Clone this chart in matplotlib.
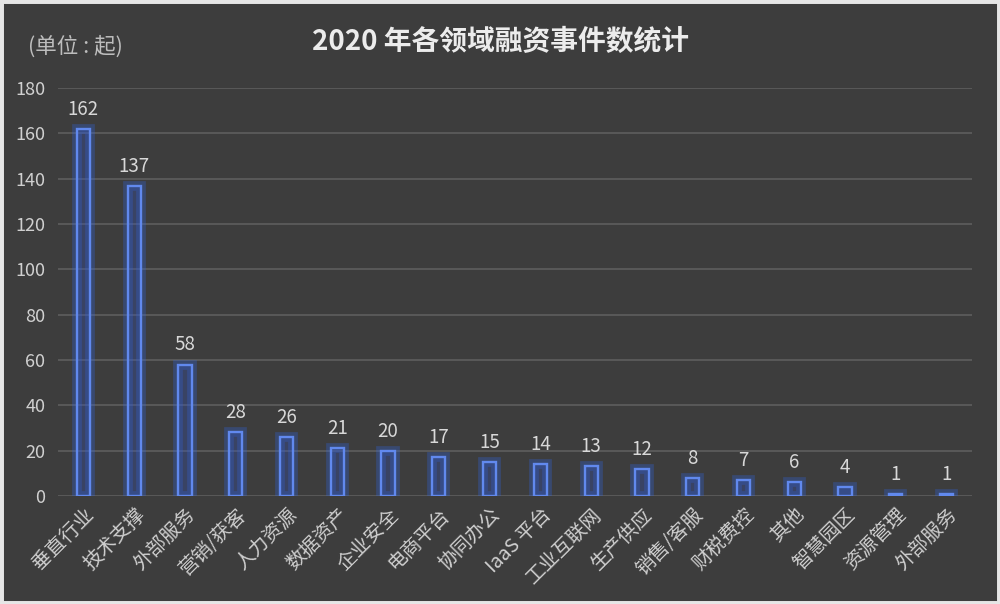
import matplotlib.pyplot as plt

plt.rcParams['font.family'] = ['Noto Sans CJK SC', 'DejaVu Sans']

categories = ["垂直行业", "技术支撑", "外部服务", "营销/获客", "人力资源", "数据资产", "企业安全",
              "电商平台", "协同办公", "IaaS 平台", "工业互联网", "生产供应", "销售/客服", "财税费控",
              "其他", "智慧园区", "资源管理", "外部服务"]
counts = [162, 137, 58, 28, 26, 21, 20, 17, 15, 14, 13, 12, 8, 7, 6, 4, 1, 1]

bg = "#3d3d3d"
fig = plt.figure(figsize=(10, 6.04), dpi=100, facecolor=bg)
ax = fig.add_axes([0.058, 0.179, 0.914, 0.675], facecolor=bg)

x = range(len(categories))
# glow
ax.bar(x, counts, width=0.26, color="none", edgecolor="#2f66e8", linewidth=7, alpha=0.3, zorder=2)
ax.bar(x, counts, width=0.26, color=(0.2, 0.33, 0.75, 0.3), edgecolor="#6189ee", linewidth=1.7, zorder=3)

for xi, v in zip(x, counts):
    ax.text(xi, v + 4, str(v), ha="center", va="bottom", color="#d8d8d8", fontsize=13.5, zorder=4)

ax.set_xlim(-0.5, len(categories) - 0.5)
ax.set_ylim(0, 180)
ax.set_yticks(range(0, 181, 20))
ax.yaxis.grid(True, color="#5e5e5e", linewidth=1.2)
ax.set_axisbelow(True)
for s in ax.spines.values():
    s.set_visible(False)
ax.tick_params(axis="both", length=0, colors="#d0d0d0", labelsize=13)
ax.tick_params(axis="y", pad=9)
ax.tick_params(axis="x", pad=6)
ax.set_xticks(list(x))
ax.set_xticklabels(categories, rotation=45, ha="right", rotation_mode="anchor", color="#cfcfcf", fontsize=14)

fig.text(0.5, 0.93, "2020 年各领域融资事件数统计", ha="center", va="center",
         fontsize=20, fontweight="bold", color="#ececec")
fig.text(0.028, 0.922, "(单位 : 起)", ha="left", va="center", fontsize=15.5, color="#bdbdbd")

# light frame around the picture
fig.patches.append(plt.Rectangle((0, 0), 1, 1, transform=fig.transFigure, fill=False,
                                 edgecolor="#e6e6e6", linewidth=5))

fig.savefig("out.png", dpi=100, facecolor=bg)
